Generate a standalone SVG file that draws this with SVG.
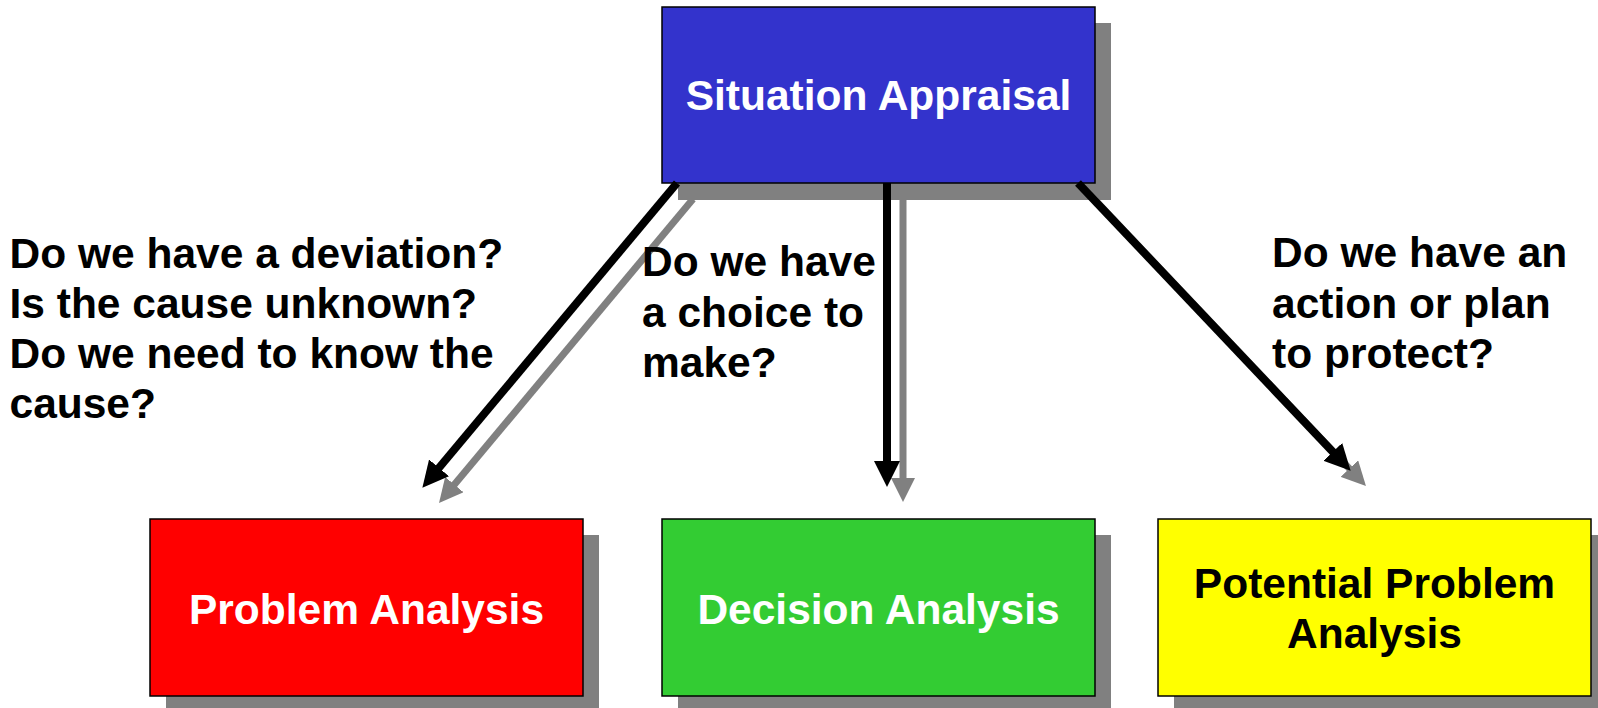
<svg xmlns="http://www.w3.org/2000/svg" width="1598" height="708" viewBox="0 0 1598 708">
<defs>
<style>
.shadow{fill:#808080;}
.box{stroke:#000;stroke-width:1.5;}
.t{font-family:"Liberation Sans",Arial,sans-serif;font-weight:bold;font-size:42.5px;}
.w{fill:#fff;text-anchor:middle;}
.k{fill:#000;text-anchor:middle;}
.q{fill:#000;}
.blk{stroke:#000;stroke-width:8;fill:none;marker-end:url(#hb);}
.gry{stroke:#808080;stroke-width:7;fill:none;marker-end:url(#hg);}
</style>
<marker id="hb" markerUnits="userSpaceOnUse" markerWidth="26" markerHeight="26" viewBox="0 0 24 24" refX="12" refY="12" orient="auto">
<path d="M0,0 L24,12 L0,24 z" fill="#000"/>
</marker>
<marker id="hg" markerUnits="userSpaceOnUse" markerWidth="24" markerHeight="24" viewBox="0 0 24 24" refX="12" refY="12" orient="auto">
<path d="M0,0 L24,12 L0,24 z" fill="#808080"/>
</marker>
</defs>
<rect width="1598" height="708" fill="#fff"/>

<g id="situation-appraisal">
<rect class="shadow" x="678" y="23" width="433" height="177"/>
<rect class="box" x="662" y="7" width="433" height="176" fill="#3333CC"/>
<text class="t w" x="878.5" y="110">Situation Appraisal</text>
</g>

<g id="problem-analysis">
<rect class="shadow" x="166" y="535" width="433" height="177"/>
<rect class="box" x="150" y="519" width="433" height="177" fill="#FF0000"/>
<text class="t w" x="366.5" y="624">Problem Analysis</text>
</g>

<g id="decision-analysis">
<rect class="shadow" x="678" y="535" width="433" height="177"/>
<rect class="box" x="662" y="519" width="433" height="177" fill="#33CC33"/>
<text class="t w" x="878.5" y="624">Decision Analysis</text>
</g>

<g id="potential-problem-analysis">
<rect class="shadow" x="1174" y="535" width="433" height="177"/>
<rect class="box" x="1158" y="519" width="433" height="177" fill="#FFFF00"/>
<text class="t k" x="1374.5" y="598">Potential Problem</text>
<text class="t k" x="1374.5" y="648">Analysis</text>
</g>

<g id="connectors">
<line class="gry" x1="693" y1="199" x2="446.7" y2="493.8"/>
<line class="gry" x1="903" y1="199" x2="903" y2="490"/>
<line class="gry" x1="1094" y1="199" x2="1357.7" y2="477.3"/>
<line class="blk" x1="677" y1="183" x2="430.7" y2="477.8"/>
<line class="blk" x1="887" y1="183" x2="887" y2="474"/>
<line class="blk" x1="1078" y1="183" x2="1341.7" y2="461.3"/>
</g>

<g id="labels">
<text class="t q" x="9.5" y="268">Do we have a deviation?</text>
<text class="t q" x="9.5" y="318">Is the cause unknown?</text>
<text class="t q" x="9.5" y="368">Do we need to know the</text>
<text class="t q" x="9.5" y="418">cause?</text>
<text class="t q" x="642" y="276">Do we have</text>
<text class="t q" x="642" y="326.5">a choice to</text>
<text class="t q" x="642" y="377">make?</text>
<text class="t q" x="1272" y="267">Do we have an</text>
<text class="t q" x="1272" y="317.5">action or plan</text>
<text class="t q" x="1272" y="368">to protect?</text>
</g>
</svg>
